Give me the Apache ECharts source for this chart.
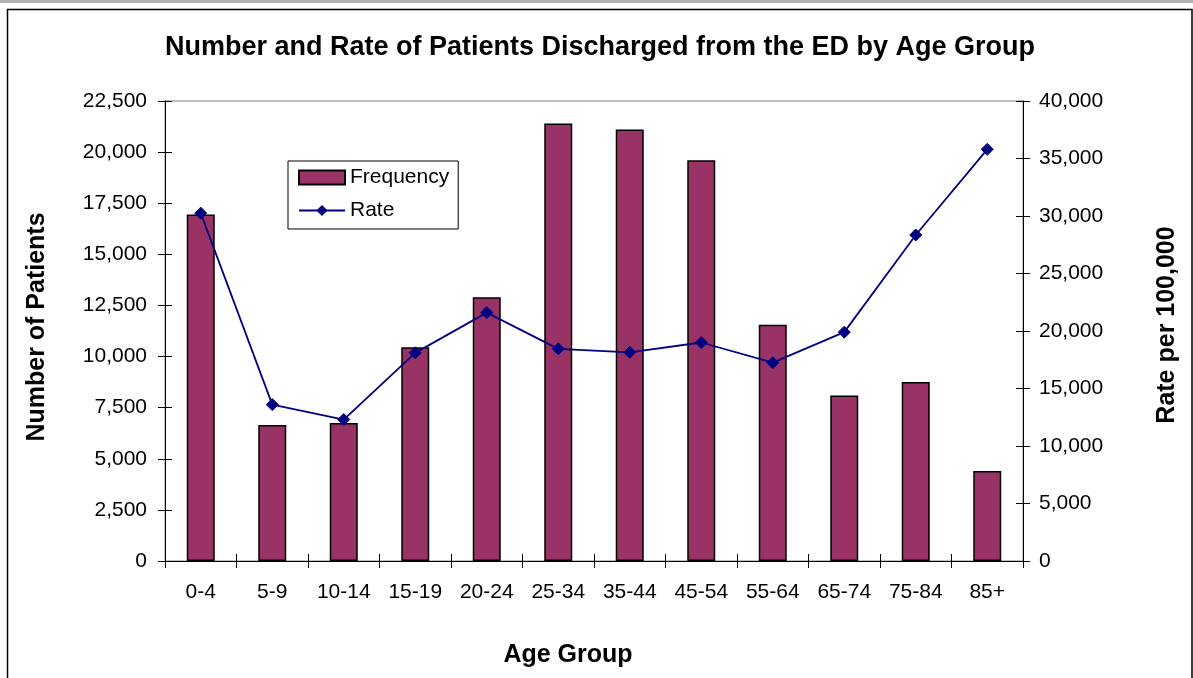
<!DOCTYPE html>
<html>
<head>
<meta charset="utf-8">
<script src="https://cdn.jsdelivr.net/npm/echarts@6/dist/echarts.min.js"></script>
<style>
html,body{margin:0;padding:0;background:#fff;}
#chart{width:1193px;height:678px;}
</style>
</head>
<body>
<div id="chart"></div>
<script>
const categories = ['0-4','5-9','10-14','15-19','20-24','25-34','35-44','45-54','55-64','65-74','75-84','85+'];
const frequency = [16950, 6650, 6750, 10450, 12900, 21400, 21100, 19600, 11550, 8100, 8750, 4400];
const rate = [30250, 13600, 12300, 18100, 21600, 18450, 18150, 19000, 17250, 19900, 28350, 35800];
const titleText = 'Number and Rate of Patients Discharged from the ED by Age Group';
const xTitle = 'Age Group';
const yLeftTitle = 'Number of Patients';
const yRightTitle = 'Rate per 100,000';

const FONT = "'Liberation Sans', Arial, sans-serif";
function fmt(v){ return String(v).replace(/\B(?=(\d{3})+(?!\d))/g, ','); }

const chart = echarts.init(document.getElementById('chart'), null, {renderer:'canvas'});
const lbl = {color:'#000', fontFamily:FONT, fontSize:21};

chart.setOption({
  backgroundColor:'#fff',
  animation:false,
  grid:{left:165, right:170, top:101, bottom:117, show:true, borderColor:'#808080', borderWidth:1, backgroundColor:'transparent'},
  legend:{
    orient:'vertical', left:288, top:161,
    borderColor:'#000', borderWidth:1, padding:[6,9,8,10],
    itemWidth:46, itemHeight:14, itemGap:12, itemTextGap:7,
    textStyle:{color:'#000', fontFamily:FONT, fontSize:21},
    data:[{name:'Frequency', icon:'rect'},{name:'Rate'}]
  },
  xAxis:[{
    type:'category', data:categories, position:'bottom',
    axisLine:{lineStyle:{color:'#000', width:1}},
    axisTick:{show:true, alignWithLabel:false, length:7, lineStyle:{color:'#000'}},
    axisLabel:Object.assign({interval:0, margin:21}, lbl),
    splitLine:{show:false}
  },{
    type:'category', data:categories, position:'bottom',
    axisLine:{show:false},
    axisTick:{show:true, inside:true, length:7, lineStyle:{color:'#000'}},
    axisLabel:{show:false}, splitLine:{show:false}
  }],
  yAxis:[{
    type:'value', min:0, max:22500, interval:2500, position:'left',
    axisLine:{show:true, lineStyle:{color:'#000'}},
    axisTick:{show:true, length:7, lineStyle:{color:'#000'}},
    axisLabel:Object.assign({margin:18, formatter:fmt}, lbl),
    splitLine:{show:false}
  },{
    type:'value', min:0, max:40000, interval:5000, position:'right',
    axisLine:{show:true, lineStyle:{color:'#000'}},
    axisTick:{show:true, length:7, lineStyle:{color:'#000'}},
    axisLabel:Object.assign({margin:16, formatter:fmt}, lbl),
    splitLine:{show:false}
  },{
    type:'value', min:0, max:22500, interval:2500, position:'left',
    axisLine:{show:false},
    axisTick:{show:true, inside:true, length:7, lineStyle:{color:'#000'}},
    axisLabel:{show:false}, splitLine:{show:false}
  },{
    type:'value', min:0, max:40000, interval:5000, position:'right',
    axisLine:{show:false},
    axisTick:{show:true, inside:true, length:7, lineStyle:{color:'#000'}},
    axisLabel:{show:false}, splitLine:{show:false}
  }],
  series:[{
    name:'Frequency', type:'bar', xAxisIndex:0, yAxisIndex:0, data:frequency,
    barWidth:28,
    itemStyle:{color:'#993366', borderColor:'#000', borderWidth:1.5}
  },{
    name:'Rate', type:'line', xAxisIndex:0, yAxisIndex:1, data:rate,
    symbol:'diamond', symbolSize:12,
    lineStyle:{color:'#000080', width:1.8},
    itemStyle:{color:'#000080', borderColor:'#000080'}
  }],
  graphic:[
    {type:'rect', shape:{x:0, y:0, width:1193, height:3}, style:{fill:'#b0b0b0'}, silent:true},
    {type:'rect', shape:{x:7.5, y:9.5, width:1184.5, height:700}, style:{fill:'none', stroke:'#000', lineWidth:1.5}, silent:true},
    {type:'text', x:600, y:48, style:{text:titleText, fill:'#000', font:"bold 27px "+FONT, textAlign:'center', textVerticalAlign:'middle'}},
    {type:'text', x:568, y:655, style:{text:xTitle, fill:'#000', font:"bold 25px "+FONT, textAlign:'center', textVerticalAlign:'middle'}},
    {type:'text', x:37, y:327, rotation:Math.PI/2, style:{text:yLeftTitle, fill:'#000', font:"bold 25px "+FONT, textAlign:'center', textVerticalAlign:'middle'}},
    {type:'text', x:1167, y:325, rotation:Math.PI/2, style:{text:yRightTitle, fill:'#000', font:"bold 25px "+FONT, textAlign:'center', textVerticalAlign:'middle'}}
  ]
});
</script>
</body>
</html>
